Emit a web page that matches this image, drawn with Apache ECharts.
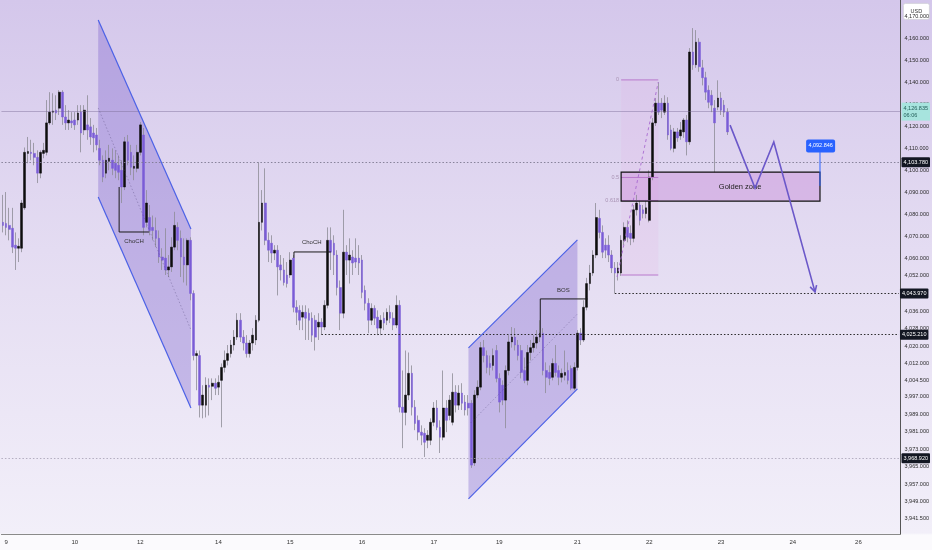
<!DOCTYPE html>
<html><head><meta charset="utf-8">
<script src="https://cdn.jsdelivr.net/npm/echarts@6/dist/echarts.min.js"></script>
<style>
html,body{margin:0;padding:0;width:932px;height:550px;overflow:hidden;background:#fbfafd}
#c{width:932px;height:550px;background:linear-gradient(to bottom,#d4c7eb 0px,#e4dcf2 250px,#f2eff9 533px,#fbfafd 535px,#fbfafd 550px)}
</style>
</head><body><div id="c"></div>
<script>
// ---------- data ----------
const dayLabels = ['9','10','12','14','15','16','17','19','21','22','23','24','26'];
const dayLabelIndex = [1,23,44,69,92,115,138,159,184,207,230,253,274];
const slotCount = 288;
const priceTicks = [4170,4160,4150,4140,4130,4120,4110,4100,4090,4080,4070,4060,4052,4036,4028,4020,4012,4004.5,3997,3989,3981,3973,3965,3957,3949,3941.5];
const yMin = 3934.4, yMax = 4177.7;
// [open, close, low, high]
const ohlc = [
[4076.4,4075.0,4071.8,4088.9],[4075.9,4074.1,4070.5,4090.2],[4075.0,4073.2,4068.2,4083.0],[4073.7,4065.1,4062.4,4083.0],
[4066.0,4064.6,4054.7,4071.8],[4064.6,4065.5,4058.3,4069.1],[4064.6,4085.2,4062.8,4086.6],[4083.0,4108.3,4082.1,4110.5],
[4107.8,4108.7,4103.3,4115.3],[4108.3,4107.8,4104.7,4114.0],[4107.8,4106.0,4102.4,4112.6],[4106.0,4098.8,4094.3,4109.2],
[4098.8,4108.3,4096.5,4109.2],[4107.8,4109.2,4105.6,4112.6],[4108.3,4121.7,4106.9,4132.1],[4121.7,4126.6,4120.8,4135.7],
[4126.6,4127.1,4120.8,4135.2],[4127.5,4126.2,4123.0,4134.3],[4128.4,4135.7,4125.3,4136.6],[4135.7,4124.4,4120.8,4136.6],
[4124.4,4121.7,4118.5,4129.8],[4121.7,4123.0,4118.5,4127.5],[4122.6,4121.7,4119.4,4126.6],[4123.0,4120.8,4118.5,4126.6],
[4123.0,4126.2,4120.8,4129.8],[4126.6,4117.1,4108.3,4129.8],[4118.5,4127.5,4116.2,4129.8],[4120.8,4118.5,4114.0,4134.3],
[4119.9,4115.3,4111.7,4123.9],[4117.1,4114.9,4108.3,4120.8],[4116.2,4111.7,4109.2,4119.4],[4110.1,4104.7,4102.4,4114.0],
[4104.7,4097.0,4094.7,4106.9],[4098.8,4104.7,4096.5,4109.2],[4104.2,4105.6,4100.1,4111.7],[4104.7,4101.0,4097.9,4110.1],
[4103.3,4100.1,4096.5,4109.2],[4102.4,4099.2,4095.6,4106.9],[4100.1,4092.5,4085.2,4104.7],[4092.5,4113.1,4091.1,4115.3],
[4113.1,4104.7,4102.4,4116.2],[4108.3,4101.5,4097.9,4111.7],[4101.0,4101.9,4095.6,4106.9],[4101.0,4108.3,4099.2,4111.7],
[4108.3,4120.8,4106.9,4122.1],[4116.2,4074.1,4070.5,4119.4],[4076.4,4085.2,4074.1,4091.1],[4078.6,4072.7,4070.5,4084.3],
[4074.1,4072.7,4068.2,4079.5],[4072.7,4069.1,4065.1,4078.6],[4069.1,4060.6,4057.9,4072.7],[4060.6,4059.2,4054.7,4064.6],
[4060.1,4054.7,4052.4,4073.7],[4054.7,4056.1,4051.5,4061.5],[4056.1,4065.1,4053.8,4069.6],[4065.1,4075.0,4063.7,4081.2],
[4074.1,4068.2,4063.7,4076.4],[4069.1,4060.6,4051.5,4072.7],[4060.6,4057.0,4049.0,4069.1],[4057.0,4068.2,4047.6,4069.1],
[4068.2,4044.0,4040.9,4069.6],[4044.0,4015.7,4013.5,4045.4],[4015.7,4016.6,3999.9,4018.0],[4015.7,3993.1,3987.5,4018.0],
[3993.1,3997.7,3987.1,4002.2],[3993.1,4002.2,3987.5,4005.8],[4002.2,4001.3,3988.4,4005.3],[4001.7,4003.1,3995.4,4005.3],
[4003.1,4000.8,3997.7,4005.3],[4001.3,4003.5,3997.7,4006.7],[4004.4,4010.3,3983.0,4012.1],[4010.3,4013.5,4008.0,4018.0],
[4013.5,4016.6,4011.2,4020.5],[4016.6,4020.5,4014.8,4022.8],[4020.5,4024.1,4018.0,4027.3],[4024.1,4031.8,4022.8,4035.0],
[4031.8,4024.1,4021.9,4035.0],[4024.1,4021.4,4018.0,4027.3],[4021.4,4016.6,4014.8,4025.0],[4016.6,4021.4,4014.8,4022.8],
[4021.4,4025.0,4018.0,4028.2],[4022.8,4031.8,4020.5,4034.1],[4031.8,4076.4,4030.9,4103.8],[4076.4,4085.2,4072.7,4091.1],
[4085.2,4068.2,4066.0,4101.0],[4068.2,4063.7,4058.3,4071.8],[4066.9,4062.4,4057.9,4070.5],[4062.4,4063.7,4059.2,4066.0],
[4063.7,4056.1,4043.1,4066.0],[4057.0,4054.7,4049.9,4061.5],[4054.7,4049.0,4047.6,4060.1],[4052.4,4048.5,4046.7,4058.3],
[4052.4,4059.2,4051.1,4062.8],[4060.1,4037.7,4035.4,4061.5],[4037.7,4035.4,4029.6,4040.9],[4036.3,4031.8,4027.3,4038.6],
[4033.2,4035.4,4027.3,4038.6],[4035.4,4032.7,4022.8,4038.6],[4035.0,4031.8,4022.8,4037.2],[4032.7,4025.0,4021.9,4035.4],
[4031.8,4024.1,4018.0,4034.1],[4028.7,4030.9,4022.8,4035.0],[4030.9,4028.7,4025.2,4032.7],[4028.7,4038.6,4027.3,4040.9],
[4038.6,4068.2,4037.2,4074.1],[4068.2,4062.8,4054.7,4074.1],[4066.9,4061.5,4052.4,4070.5],[4061.5,4046.7,4043.1,4063.7],
[4046.7,4035.0,4027.3,4049.9],[4035.0,4062.8,4032.7,4082.1],[4062.8,4059.2,4052.4,4066.0],[4059.2,4061.5,4048.5,4069.1],
[4060.6,4057.9,4052.4,4063.7],[4060.1,4058.3,4055.6,4069.1],[4060.1,4057.9,4052.4,4066.0],[4059.2,4044.5,4041.8,4061.5],
[4045.4,4039.5,4036.3,4047.6],[4039.5,4031.8,4025.9,4041.8],[4031.8,4037.2,4029.6,4039.5],[4037.2,4032.7,4029.6,4038.6],
[4033.2,4028.2,4025.0,4036.3],[4028.2,4031.8,4025.0,4034.1],[4032.7,4030.5,4027.3,4035.4],[4031.8,4035.4,4029.6,4037.2],
[4035.4,4032.7,4030.5,4038.6],[4032.7,4029.6,4027.3,4035.4],[4029.6,4038.6,4028.2,4043.1],[4038.6,3992.2,3989.8,4040.9],
[3992.2,3989.8,3973.5,4008.9],[3989.8,3997.7,3983.9,4018.0],[3997.7,4007.6,3995.4,4017.1],[4007.6,3992.2,3988.4,4011.2],
[3992.2,3984.8,3981.7,3995.4],[3986.2,3980.8,3977.1,3988.4],[3980.8,3979.4,3974.9,3983.9],[3980.3,3976.2,3969.5,3982.6],
[3977.1,3979.4,3973.5,3981.7],[3977.1,3985.3,3974.9,3987.1],[3985.3,3991.8,3983.5,3994.5],[3991.8,3983.0,3981.7,3995.4],
[3983.0,3978.5,3971.3,3986.2],[3978.5,3991.8,3977.1,4008.9],[3991.8,3986.2,3980.8,3995.4],[3988.4,3995.4,3986.2,3997.7],
[3985.3,3999.0,3983.9,4007.6],[3999.0,3993.1,3989.8,4002.2],[3993.1,3998.6,3990.9,4002.2],[3998.6,3994.0,3990.9,4003.1],
[3994.5,3990.9,3988.4,3997.7],[3994.0,3991.8,3988.4,3997.7],[3994.0,3965.8,3964.5,3995.4],[3966.8,3997.7,3965.4,3999.9],
[3997.7,4001.3,3996.3,4004.4],[4001.3,4019.3,3999.9,4021.9],[4019.3,4015.7,4012.6,4022.8],[4015.7,4010.3,4007.6,4018.0],
[4012.1,4010.3,4006.7,4015.7],[4011.2,4015.7,4008.9,4018.9],[4018.0,4005.3,4003.5,4020.5],[4005.3,3994.5,3989.8,4007.6],
[4002.2,3995.4,3993.1,4004.4],[3995.4,4008.9,3982.6,4011.2],[4008.9,4021.9,4006.7,4025.0],[4021.9,4024.1,4019.3,4028.7],
[4024.1,4020.5,4018.0,4028.2],[4020.5,4015.7,4013.5,4022.8],[4018.0,4008.0,4005.3,4020.5],[4008.9,4004.4,4003.1,4014.8],
[4004.4,4017.1,4002.2,4020.5],[4017.1,4019.3,4013.5,4022.8],[4019.3,4021.4,4017.1,4025.0],[4021.4,4024.1,4018.9,4027.3],
[4024.1,4025.9,4021.9,4031.8],[4025.9,4008.9,4006.7,4028.2],[4008.9,4005.8,3998.6,4012.6],[4008.0,4005.3,4002.2,4011.2],
[4005.8,4012.1,4004.4,4014.4],[4012.1,4008.0,4006.2,4020.5],[4008.9,4005.8,4002.2,4011.2],[4005.8,4007.6,4003.5,4009.8],
[4006.7,4008.0,4004.4,4018.0],[4008.9,4004.4,4002.6,4012.6],[4009.8,4000.8,3999.9,4011.2],[4000.8,4010.3,3999.9,4012.6],
[4010.3,4025.9,4008.9,4027.3],[4025.9,4022.8,4020.5,4028.2],[4022.8,4037.7,4021.9,4040.9],[4037.7,4048.5,4036.3,4051.1],
[4048.5,4053.3,4045.4,4057.0],[4053.3,4061.5,4052.0,4063.7],[4061.5,4078.6,4060.1,4085.2],[4078.2,4071.8,4069.1,4082.1],
[4071.8,4062.8,4060.1,4075.0],[4066.0,4063.7,4060.1,4069.1],[4066.0,4061.5,4058.3,4070.5],[4061.5,4055.6,4053.3,4063.7],
[4055.6,4053.3,4043.97,4058.3],[4053.3,4055.6,4049.9,4058.3],[4053.3,4068.2,4052.0,4070.5],[4068.2,4074.1,4066.0,4076.4],
[4074.1,4069.6,4067.3,4077.3],[4071.4,4069.1,4066.0,4075.0],[4069.1,4082.1,4067.3,4084.3],[4082.1,4085.2,4079.5,4088.9],
[4084.3,4077.3,4075.0,4086.6],[4082.1,4080.4,4078.2,4084.3],[4080.4,4083.0,4078.2,4086.6],[4077.3,4097.0,4076.4,4100.1],
[4097.0,4121.7,4095.6,4123.9],[4121.7,4130.7,4120.3,4133.0],[4130.7,4126.6,4125.3,4140.2],[4130.7,4127.5,4123.9,4133.0],
[4126.6,4130.7,4125.3,4134.3],[4130.7,4116.2,4114.0,4133.4],[4118.5,4110.1,4109.2,4120.8],[4110.1,4117.6,4108.3,4119.4],
[4117.6,4114.9,4113.1,4119.4],[4115.8,4118.5,4114.0,4122.1],[4117.6,4123.0,4114.9,4123.9],[4123.0,4113.1,4106.9,4125.3],
[4113.1,4154.0,4111.7,4155.8],[4154.0,4148.2,4145.9,4164.9],[4148.2,4158.5,4146.8,4164.0],[4158.5,4147.3,4145.0,4160.3],
[4146.8,4142.3,4138.8,4150.4],[4142.3,4135.7,4132.1,4145.0],[4136.6,4131.1,4128.4,4138.8],[4134.3,4129.8,4126.6,4136.6],
[4128.4,4121.7,4099.2,4132.1],[4128.9,4133.0,4127.5,4141.1],[4133.0,4127.5,4125.3,4135.7],[4129.8,4126.6,4124.4,4132.1],
[4126.6,4117.6,4116.2,4128.4]
];
const lastPrice = 4126.835, lastPriceTimer = '06:06';
const levelPrices = [4103.78, 4043.97, 4025.21, 3968.92];
const levelStartIndex = [0, 196, 102, 0];
// annotations in (candle index, price)
const channel1 = [[30.5,4168.6],[60.2,4073.4],[60.2,3991.8],[30.5,4087.9]];
const channel1Mid = [[30.5,4128.5],[60.2,4027.4]];
const channel2 = [[149.1,4019.2],[184.0,4068.4],[184.0,4000.5],[149.1,3950.4]];
const channel2Mid = [[149.8,3985.0],[184.3,4035.1]];
const fibSpan = [198.0, 209.9];
const fibHigh = 4141.3, fibLow = 4052.4;
const fibLevels = [0, 0.5, 0.618, 1];
const fibLevelText = ['0', '0.5', '0.618', ''];
const fibDiagonal = [[196.7,4051.5],[209.9,4140.3]];
const goldenZone = [198.0, 261.7, 4099.3, 4086.1];
const goldenZoneText = ['Golden zone', 236.1, 4092.5];
const projection = [[232.9,4120.7],[240.9,4092.0],[246.9,4113.0],[260.1,4044.7]];
const priceNote = [4092.846, 261.7, 4111.2, 4108.4, 4093.0]; // value, index, label price, line top, line bottom
const chochA = [[37.2,4092.5],[37.2,4072.0],[46.8,4072.0]];
const chochB = [[93.2,4060.2],[93.2,4062.9],[105.0,4062.9]];
const bos = [[172.1,4026.0],[172.1,4041.5],[187.2,4041.5]];
const structureTexts = [['ChoCH',42.0,4069.3,'top'],['ChoCH',98.9,4066.1,'bottom'],['BOS',179.5,4044.2,'bottom']];

// ---------- helpers ----------
const FONT = 'Liberation Sans, Arial, sans-serif';
function fmt(v){
  const s = Number(v).toFixed(3);
  const parts = s.split('.');
  return parts[0].replace(/\B(?=(\d{3})+(?!\d))/g, ',') + '.' + parts[1];
}
function makePt(api){
  const a = api.coord([0, 4000]), b = api.coord([1, 4000]);
  const step = b[0] - a[0];
  return (i, p) => [a[0] + step * i, api.coord([0, p])[1]];
}
function txt(x, y, text, color, size, align, valign){
  return {type:'text', silent:true, style:{text:text, x:x, y:y, fill:color, fontSize:size, fontFamily:FONT,
    align:align, verticalAlign:valign, textAlign:align, textVerticalAlign:valign}};
}
function pl(points, stroke, width, dash){
  return {type:'polyline', silent:true, shape:{points:points}, style:{fill:'none', stroke:stroke, lineWidth:width, lineDash:dash || null}};
}

function renderBack(params, api){
  const P = makePt(api);
  const ch = [];
  ch.push({type:'polygon', silent:true, shape:{points:channel1.map(q=>P(q[0],q[1]))}, style:{fill:'rgba(105,75,200,0.30)'}});
  ch.push({type:'polygon', silent:true, shape:{points:channel2.map(q=>P(q[0],q[1]))}, style:{fill:'rgba(105,75,200,0.30)'}});
  const f0 = P(fibSpan[0], fibHigh), f1 = P(fibSpan[1], fibLow);
  ch.push({type:'rect', silent:true, shape:{x:f0[0], y:f0[1], width:f1[0]-f0[0], height:f1[1]-f0[1]}, style:{fill:'rgba(230,160,225,0.13)'}});
  const g0 = P(goldenZone[0], goldenZone[2]), g1 = P(goldenZone[1], goldenZone[3]);
  ch.push({type:'rect', silent:true, shape:{x:g0[0], y:g0[1], width:g1[0]-g0[0], height:g1[1]-g0[1]}, style:{fill:'rgba(200,135,215,0.40)'}});
  return {type:'group', children:ch};
}

function renderFront(params, api){
  const P = makePt(api);
  const ch = [];
  const edge = '#4b61e6';
  ch.push(pl([P(channel1[0][0],channel1[0][1]), P(channel1[1][0],channel1[1][1])], edge, 1.2));
  ch.push(pl([P(channel1[3][0],channel1[3][1]), P(channel1[2][0],channel1[2][1])], edge, 1.2));
  ch.push(pl(channel1Mid.map(q=>P(q[0],q[1])), 'rgba(80,70,120,0.45)', 0.8, [1.5,2]));
  ch.push(pl([P(channel2[0][0],channel2[0][1]), P(channel2[1][0],channel2[1][1])], edge, 1.2));
  ch.push(pl([P(channel2[3][0],channel2[3][1]), P(channel2[2][0],channel2[2][1])], edge, 1.2));
  ch.push(pl(channel2Mid.map(q=>P(q[0],q[1])), 'rgba(80,70,120,0.45)', 0.8, [1.5,2]));
  // fib
  fibLevels.forEach((lv, k) => {
    const price = fibHigh - lv * (fibHigh - fibLow);
    const a = P(fibSpan[0], price), b = P(fibSpan[1], price);
    ch.push(pl([a, b], '#b878cc', 1));
    if (fibLevelText[k]) ch.push(txt(a[0]-2, a[1], fibLevelText[k], '#a892b3', 5.5, 'right', 'middle'));
  });
  ch.push(pl(fibDiagonal.map(q=>P(q[0],q[1])), '#a86ad0', 0.9, [3,3]));
  // golden zone
  const g0 = P(goldenZone[0], goldenZone[2]), g1 = P(goldenZone[1], goldenZone[3]);
  ch.push({type:'rect', silent:true, shape:{x:g0[0], y:g0[1], width:g1[0]-g0[0], height:g1[1]-g0[1]}, style:{fill:'none', stroke:'#111', lineWidth:1.2}});
  const gt = P(goldenZoneText[1], goldenZoneText[2]);
  ch.push(txt(gt[0], gt[1], goldenZoneText[0], '#222', 7.5, 'center', 'middle'));
  // projection arrow
  const pts = projection.map(q=>P(q[0],q[1]));
  ch.push(pl(pts, '#6b58c9', 1.6));
  const e = pts[pts.length-1], s = pts[pts.length-2];
  const ang = Math.atan2(e[1]-s[1], e[0]-s[0]);
  const L = 7;
  ch.push(pl([[e[0]-L*Math.cos(ang-0.5), e[1]-L*Math.sin(ang-0.5)], e, [e[0]-L*Math.cos(ang+0.5), e[1]-L*Math.sin(ang+0.5)]], '#6b58c9', 1.6));
  // price note
  const nt = P(priceNote[1], priceNote[3]), nb = P(priceNote[1], priceNote[4]);
  ch.push(pl([nt, nb], '#2962ff', 1));
  const nl = P(priceNote[1] + 0.2, priceNote[2]);
  ch.push({type:'rect', silent:true, shape:{x:nl[0]-14.5, y:nl[1]-6.5, width:29, height:13, r:2}, style:{fill:'#2962ff'}});
  ch.push(txt(nl[0], nl[1], fmt(priceNote[0]), '#ffffff', 5.5, 'center', 'middle'));
  // structure
  [chochA, chochB, bos].forEach(arr => ch.push(pl(arr.map(q=>P(q[0],q[1])), '#1a1a1a', 1)));
  structureTexts.forEach(t => { const p = P(t[1], t[2]); ch.push(txt(p[0], p[1], t[0], '#333', 6, 'center', t[3])); });
  return {type:'group', children:ch};
}

// ---------- chart ----------
const categories = Array.from({length: slotCount}, (_, i) => { const k = dayLabelIndex.indexOf(i); return k >= 0 ? dayLabels[k] : ''; });
const bodies = ohlc.map(c => [c[0], c[1], Math.min(c[0], c[1]), Math.max(c[0], c[1])]);

const blackLabel = {show:true, position:'end', distance:1, color:'#ffffff', backgroundColor:'#131722', fontSize:5.5, fontFamily:FONT, padding:[2,2,2,2], borderRadius:1};
const levelStyles = [
  {type:[1.5,2], color:'#7d7890', width:0.9},
  {type:[1.5,2], color:'#2a2a2a', width:1},
  {type:[1.5,2], color:'#2a2a2a', width:1},
  {type:[1.5,2], color:'#a49eb2', width:0.8}
];
const markData = [
  {yAxis:lastPrice, lineStyle:{type:'solid', color:'rgba(120,105,150,0.55)', width:0.8},
   label:{show:true, position:'end', distance:1, formatter: fmt(lastPrice) + '\n' + lastPriceTimer, color:'#235f5a', backgroundColor:'#a7e4de', fontSize:5.5, lineHeight:7, fontFamily:FONT, padding:[2,2,2,2]}}
];
levelPrices.forEach((v, k) => {
  const lab = Object.assign({}, blackLabel, {formatter: fmt(v)});
  if (levelStartIndex[k] === 0) markData.push({yAxis:v, lineStyle:levelStyles[k], label:lab});
  else markData.push([{coord:[levelStartIndex[k], v], lineStyle:levelStyles[k], label:lab}, {coord:[slotCount-1, v]}]);
});

const chart = echarts.init(document.getElementById('c'), null, {renderer:'canvas'});
chart.setOption({
  animation:false,
  backgroundColor:'transparent',
  textStyle:{fontFamily:FONT},
  grid:{left:0, right:31, top:0, bottom:16, containLabel:false},
  xAxis:{type:'category', data:categories, boundaryGap:true,
    axisLine:{show:true, lineStyle:{color:'#8a8a8a', width:1}}, axisTick:{show:false}, splitLine:{show:false},
    axisLabel:{interval:0, fontSize:6, color:'#333', margin:5, fontFamily:FONT}},
  yAxis:{type:'value', position:'right', min:yMin, max:yMax, scale:true,
    splitLine:{show:false}, axisTick:{show:false},
    axisLine:{show:true, lineStyle:{color:'#555', width:1}},
    axisLabel:{customValues:priceTicks, formatter:fmt, fontSize:5.5, color:'#2b2b2b', margin:4, fontFamily:FONT}},
  graphic:[{type:'group', left:903, top:3, z:100, children:[
    {type:'rect', shape:{x:0, y:0, width:26, height:16, r:2}, style:{fill:'#ffffff', stroke:'#d0d0d8', lineWidth:0.8}},
    {type:'text', style:{text:'USD', x:13, y:8, fill:'#333', fontSize:5.5, fontFamily:FONT, align:'center', verticalAlign:'middle', textAlign:'center', textVerticalAlign:'middle'}}
  ]}],
  series:[
    {type:'custom', name:'back', z:1, silent:true, renderItem:renderBack, data:[[0,4000]], clip:false},
    {type:'candlestick', name:'wick', z:2, silent:true, data:ohlc, barWidth:0.6,
      itemStyle:{color:'rgba(0,0,0,0)', color0:'rgba(0,0,0,0)', borderColor:'#8d8c96', borderColor0:'#8d8c96', borderWidth:0.8}},
    {type:'candlestick', name:'body', z:3, silent:true, data:bodies, barWidth:2.2,
      itemStyle:{color:'#0d0d0d', color0:'#7a5cd6', borderColor:'#0d0d0d', borderColor0:'#7a5cd6', borderWidth:0.5},
      markLine:{silent:true, symbol:['none','none'], animation:false, data:markData}},
    {type:'custom', name:'front', z:5, silent:true, renderItem:renderFront, data:[[0,4000]], clip:false}
  ]
});
</script>
</body></html>
